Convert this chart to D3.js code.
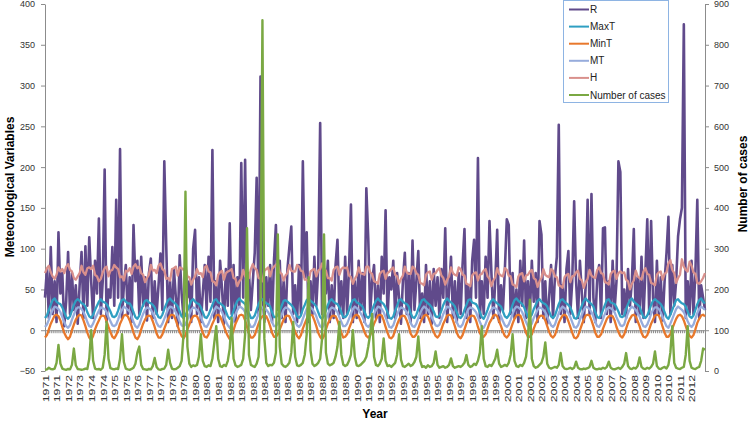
<!DOCTYPE html>
<html>
<head>
<meta charset="utf-8">
<script src="https://cdnjs.cloudflare.com/ajax/libs/d3/7.8.5/d3.min.js"></script>
<style>
body { margin: 0; background: #fff; }
svg { font-family: "Liberation Sans", Arial, sans-serif; }
</style>
</head>
<body>
<div id="chart"></div>
<script>
// labels shown on the category axis, one every 6 points
var yearTicks = ["1971","1971","1972","1973","1974","1974","1975","1975","1976","1977","1977","1978","1979","1980","1980","1981","1982","1983","1983","1984","1985","1986","1986","1987","1988","1989","1989","1990","1991","1992","1992","1993","1994","1995","1995","1996","1997","1998","1998","1999","2000","2001","2001","2002","2003","2004","2004","2005","2006","2007","2007","2008","2009","2010","2010","2011","2012"];
var leftTicks = [-50, 0, 50, 100, 150, 200, 250, 300, 350, 400];
var rightTicks = [0, 100, 200, 300, 400, 500, 600, 700, 800, 900];

// monthly values, one row per year
var R = [
  40,75,15,102,20,60,10,120,45,70,5,35,
  96,20,70,25,55,8,55,96,15,103,30,114,
  60,15,85,45,137,20,60,197,10,50,40,102,
  30,160,40,222,15,55,80,20,65,10,129,60,
  85,20,90,30,65,12,70,88,15,60,20,55,
  94,25,207,104,10,60,15,75,40,5,92,45,
  15,85,40,60,10,100,123,20,65,10,45,80,
  25,90,35,221,15,60,10,85,50,8,75,30,
  131,20,80,10,65,30,205,40,209,15,70,25,
  60,95,187,20,311,50,10,65,30,80,10,85,
  129,25,85,15,60,10,75,102,127,20,55,10,
  80,20,207,65,120,10,60,20,90,30,75,254,
  20,70,45,85,10,55,15,80,111,20,60,15,
  90,20,75,154,10,60,15,85,25,70,10,174,
  112,20,60,80,15,55,10,90,45,147,15,65,
  50,85,15,70,40,8,60,95,20,70,10,110,
  25,60,97,15,45,10,80,20,60,8,75,30,
  65,15,75,40,125,10,50,90,15,60,10,70,
  20,80,124,15,55,10,85,111,40,211,15,60,
  20,90,40,134,70,15,60,123,10,55,25,75,
  136,129,20,70,15,50,10,85,30,110,15,60,
  20,85,35,70,10,134,117,15,60,8,40,80,
  15,65,90,252,20,55,10,75,97,20,60,158,
  60,15,85,45,10,55,160,20,167,40,10,65,
  80,15,125,126,20,60,10,85,25,60,207,194,
  20,50,15,75,30,60,124,10,65,20,90,15,
  70,136,20,134,40,10,85,20,65,12,60,95,
  139,20,80,30,60,115,136,150,375,15,60,20,
  85,20,70,160,15,55,40,25
];

var MaxT = [
  15,18,25,31,37,39,35,33,32,28,22,16,
  14,17,24,31,36,38,36,33,32,29,22,17,
  15,19,25,30,35,38,35,34,32,28,23,17,
  16,18,24,32,37,38,35,33,33,29,22,16,
  14,18,25,31,36,37,34,33,31,28,21,16,
  15,19,26,32,37,39,36,34,32,29,23,17,
  16,18,24,30,36,38,35,33,32,28,22,16,
  15,19,25,31,37,38,34,33,31,29,23,17,
  14,17,24,31,36,39,36,34,32,28,21,15,
  15,18,25,32,37,38,35,33,32,29,22,16,
  16,19,24,30,36,37,35,33,31,28,23,17,
  15,18,26,31,37,39,36,34,32,29,22,16,
  14,18,24,31,36,38,35,33,32,28,22,16,
  16,19,25,32,37,38,34,33,31,29,23,17,
  15,18,25,31,36,39,36,34,32,28,22,15,
  14,17,24,30,37,38,35,33,32,29,21,16,
  15,19,26,32,37,38,35,33,31,28,23,17,
  16,18,24,31,36,39,36,34,32,29,22,16,
  15,18,25,31,37,38,34,33,32,28,22,16,
  14,19,25,32,36,38,35,33,31,29,23,17,
  15,18,24,31,37,39,36,34,32,28,22,16,
  16,19,26,31,36,38,35,33,32,29,23,17,
  15,18,25,32,37,38,35,33,31,28,22,15,
  14,17,24,30,36,39,36,34,32,29,22,16,
  15,19,25,31,37,38,34,33,32,28,23,17,
  16,18,26,32,37,39,35,33,31,29,22,16,
  15,18,24,31,36,38,36,34,32,28,22,16,
  14,19,25,31,37,38,35,33,32,29,23,17,
  15,18,25,32,37,39,35,33
];

var MinT = [
  -9,-6,1,8,13,18,19,17,12,4,-3,-8,
  -11,-8,0,7,13,17,19,18,12,5,-3,-9,
  -12,-7,1,7,12,17,18,17,11,4,-2,-8,
  -10,-6,0,8,13,18,19,17,12,5,-3,-9,
  -11,-7,1,8,13,17,18,17,11,4,-4,-9,
  -9,-5,2,8,14,18,19,18,12,5,-2,-7,
  -10,-6,1,7,13,17,18,17,12,4,-3,-8,
  -9,-5,2,8,13,18,19,17,11,5,-2,-7,
  -11,-7,0,8,13,18,19,18,12,4,-4,-9,
  -9,-6,1,8,14,17,18,17,12,5,-3,-8,
  -8,-5,1,7,13,17,18,17,11,4,-2,-7,
  -10,-6,2,8,14,18,19,18,12,5,-3,-8,
  -11,-7,1,8,13,17,18,17,12,4,-3,-9,
  -8,-5,2,8,14,18,19,17,11,5,-2,-7,
  -9,-6,1,8,13,18,19,18,12,4,-3,-9,
  -10,-7,0,7,13,17,18,17,12,5,-4,-8,
  -8,-5,2,9,14,18,19,17,11,4,-2,-7,
  -9,-6,1,8,13,18,19,18,12,5,-3,-8,
  -10,-6,1,8,14,17,18,17,12,4,-3,-8,
  -8,-5,2,9,13,18,19,17,11,5,-2,-7,
  -9,-6,1,8,14,18,19,18,12,4,-3,-8,
  -8,-5,2,8,13,17,18,17,12,5,-2,-7,
  -9,-6,1,9,14,18,19,17,11,4,-3,-9,
  -10,-7,0,7,13,18,19,18,12,5,-3,-8,
  -8,-5,2,8,14,17,18,17,12,4,-2,-7,
  -9,-5,2,9,14,18,19,17,11,5,-3,-8,
  -9,-6,1,8,13,18,19,18,12,4,-3,-8,
  -8,-5,2,8,14,18,19,17,12,5,-2,-7,
  -9,-6,1,9,14,18,19,17
];

var MT = [
  4,7,13,20,25,29,28,26,22,16,10,5,
  3,6,13,19,25,28,28,26,22,17,10,5,
  4,8,14,19,24,28,27,26,22,16,11,6,
  5,7,13,20,25,29,27,25,23,17,10,5,
  3,7,14,20,25,28,27,25,21,16,9,5,
  4,8,14,20,26,29,28,26,22,17,11,6,
  5,7,13,19,25,28,27,25,22,16,10,5,
  4,8,14,20,25,29,27,26,22,17,11,6,
  3,6,13,20,25,29,28,26,22,16,9,4,
  4,7,14,20,26,28,27,25,22,17,10,5,
  5,8,13,19,25,28,27,25,21,16,11,6,
  4,7,14,20,26,29,28,26,22,17,10,5,
  3,7,13,20,25,28,27,25,22,16,10,5,
  5,8,14,20,26,29,27,25,21,17,11,6,
  4,7,14,20,25,29,28,26,22,16,10,4,
  3,6,13,19,25,28,27,25,22,17,9,5,
  4,8,15,21,26,29,27,25,21,16,11,6,
  5,7,13,20,25,29,28,26,22,17,10,5,
  4,7,14,20,26,28,27,25,22,16,10,5,
  3,8,14,21,25,28,27,25,21,17,11,6,
  4,7,13,20,26,29,28,26,22,16,10,5,
  5,8,15,20,25,28,27,25,22,17,11,6,
  4,7,14,21,26,29,27,25,21,16,10,4,
  3,6,13,19,25,29,28,26,22,17,10,5,
  4,8,14,20,26,28,27,25,22,16,11,6,
  5,7,15,21,26,29,27,25,21,17,10,5,
  4,7,13,20,25,28,28,26,22,16,10,5,
  3,8,14,20,26,29,27,25,22,17,11,6,
  4,7,14,21,26,29,27,25
];

var H = [
  70,76,79,71,66,63,68,77,72,75,70,78,
  81,74,72,64,62,66,70,79,71,68,76,77,
  75,79,68,66,60,63,71,76,78,66,73,74,
  80,77,75,65,66,61,73,72,76,69,78,81,
  76,78,70,68,59,64,68,80,73,74,70,79,
  82,75,73,63,64,61,75,76,78,67,77,76,
  74,77,66,65,56,62,66,75,69,70,65,77,
  79,72,71,60,59,55,68,71,73,62,70,72,
  73,75,64,63,54,60,63,74,66,67,64,75,
  81,76,74,64,63,60,73,75,77,66,75,78,
  80,82,71,69,61,67,70,80,73,72,72,80,
  78,73,72,62,62,59,72,74,75,66,73,75,
  82,76,73,64,64,61,74,77,78,68,75,77,
  76,77,67,65,57,63,67,77,70,69,68,78,
  78,71,69,60,59,57,69,72,73,63,70,72,
  75,77,68,66,57,63,67,78,71,69,69,78,
  76,70,68,58,57,55,68,71,72,62,69,70,
  74,76,67,64,56,62,66,77,70,68,67,77,
  75,68,67,57,56,54,67,70,71,61,68,69,
  73,75,66,63,54,61,65,76,69,67,66,76,
  74,67,66,56,55,53,66,69,70,60,67,68,
  72,74,64,62,53,60,64,75,68,66,65,75,
  73,66,65,55,54,52,65,68,69,59,66,67,
  71,73,63,61,52,59,63,74,67,65,64,74,
  77,70,69,59,58,56,69,72,73,63,70,72,
  70,71,62,60,50,57,61,73,66,64,62,72,
  76,69,68,58,57,55,68,71,72,62,69,71,
  82,86,74,70,58,64,68,87,78,74,72,84,
  79,71,69,58,57,60,64,70
];

var Cases = [
  3,4,8,5,4,6,20,64,18,6,4,3,
  5,4,15,55,14,5,4,3,4,6,5,30,
  100,25,6,4,5,3,8,40,120,30,7,5,
  4,6,5,30,90,22,6,4,3,5,8,18,
  45,60,15,5,4,3,5,4,12,32,10,4,
  3,5,6,15,52,20,6,4,5,8,12,25,
  90,440,60,18,10,14,12,15,35,90,25,12,
  10,14,12,30,70,110,30,12,10,15,12,25,
  55,130,30,14,10,12,15,30,90,350,40,15,
  12,10,18,35,150,860,80,20,12,15,14,20,
  45,335,60,18,12,10,14,20,45,120,35,14,
  12,15,20,40,90,230,50,18,12,15,20,30,
  80,335,45,18,14,16,20,35,60,120,40,16,
  12,15,25,40,100,35,14,12,15,20,25,35,
  60,90,140,35,15,12,18,30,80,25,12,14,
  10,15,20,40,90,28,12,10,14,18,12,15,
  22,35,85,25,10,12,8,14,10,12,20,48,
  15,8,10,12,8,10,15,31,12,8,10,12,
  10,14,20,39,15,10,12,18,15,25,45,110,
  30,12,10,15,12,20,30,52,18,10,12,15,
  12,20,40,90,25,12,10,15,12,20,35,80,
  175,30,12,8,10,15,20,35,70,18,8,6,
  8,10,8,15,44,12,6,5,6,8,5,8,
  23,8,5,4,6,5,7,10,25,8,5,4,
  6,5,8,6,10,23,8,5,4,6,8,5,
  10,18,44,12,6,5,8,6,12,33,10,6,
  5,8,6,10,18,48,12,6,5,8,10,6,
  15,45,110,20,8,6,5,8,10,40,110,25,
  8,6,5,8,10,25,55,52
];

var series = [
  {name: "R", values: R, color: "#604a8b", width: 2.6, right: false},
  {name: "MaxT", values: MaxT, color: "#2f9fc2", width: 2.3, right: false},
  {name: "MinT", values: MinT, color: "#e8782c", width: 2.3, right: false},
  {name: "MT", values: MT, color: "#97acdc", width: 2.3, right: false},
  {name: "H", values: H, color: "#d9908c", width: 2.3, right: false},
  {name: "Number of cases", values: Cases, color: "#7aa843", width: 2.4, right: true}
];

var width = 750, height = 422;
var N = R.length;

var svg = d3.select("#chart").append("svg").attr("width", width).attr("height", height);

var x = d3.scaleLinear().domain([0, N - 1]).range([45, 705]);
var yLeft = d3.scaleLinear().domain([-50, 400]).range([371, 4]);
var yRight = d3.scaleLinear().domain([0, 900]).range([371, 4]);

function styleAxis(g) {
    g.select(".domain").attr("stroke", "#8c8c8c");
    g.selectAll(".tick line").attr("stroke", "#8c8c8c");
    g.selectAll(".tick text").attr("fill", "#333").style("font-size", "9px");
}

svg.append("g")
    .attr("transform", "translate(45,0)")
    .call(d3.axisLeft(yLeft).tickValues(leftTicks).tickSize(4).tickPadding(6).tickSizeOuter(0))
    .call(styleAxis);

svg.append("g")
    .attr("transform", "translate(705,0)")
    .call(d3.axisRight(yRight).tickValues(rightTicks).tickSize(4).tickPadding(5).tickSizeOuter(0))
    .call(styleAxis);

// category axis crosses at 0 on the left scale, one tick per month
svg.append("g")
    .attr("transform", "translate(0," + yLeft(0) + ")")
    .call(d3.axisBottom(x).tickValues(d3.range(N)).tickSize(3).tickSizeOuter(0).tickFormat(""))
    .call(styleAxis);

var labelAxis = svg.append("g")
    .attr("transform", "translate(0,371)")
    .call(d3.axisBottom(x)
        .tickValues(yearTicks.map(function(d, i) { return i * 6; }))
        .tickSize(0)
        .tickFormat(function(d, i) { return yearTicks[i]; }));
labelAxis.select(".domain").remove();
labelAxis.selectAll("text")
    .attr("transform", "rotate(-90) scale(1.3,1)")
    .attr("x", -3)
    .attr("y", 0)
    .attr("dy", "0.35em")
    .attr("fill", "#333")
    .style("font-size", "9.5px")
    .style("text-anchor", "end");

series.forEach(function(s) {
    var scale = s.right ? yRight : yLeft;
    var line = d3.line()
        .x(function(d, i) { return x(i); })
        .y(function(d) { return scale(d); });
    svg.append("path")
        .datum(s.values)
        .attr("fill", "none")
        .attr("stroke", s.color)
        .attr("stroke-width", s.width)
        .attr("stroke-linejoin", "round")
        .attr("d", line);
});

// titles
svg.append("text")
    .attr("transform", "translate(14,187) rotate(-90)")
    .attr("text-anchor", "middle")
    .style("font-size", "12px").style("font-weight", "bold")
    .text("Meteorological Variables");

svg.append("text")
    .attr("transform", "translate(747,184) rotate(-90)")
    .attr("text-anchor", "middle")
    .style("font-size", "12px").style("font-weight", "bold")
    .text("Number of cases");

svg.append("text")
    .attr("x", 375).attr("y", 418)
    .attr("text-anchor", "middle")
    .style("font-size", "12px").style("font-weight", "bold")
    .text("Year");

// legend
var legend = svg.append("g");
legend.append("rect")
    .attr("x", 563.5).attr("y", 0.5)
    .attr("width", 105).attr("height", 102)
    .attr("fill", "#fff").attr("stroke", "#8eb4e3");
series.forEach(function(s, k) {
    var ly = 9.5 + k * 17.1;
    legend.append("line")
        .attr("x1", 569).attr("x2", 589).attr("y1", ly).attr("y2", ly)
        .attr("stroke", s.color).attr("stroke-width", 2);
    legend.append("text")
        .attr("x", 590).attr("y", ly).attr("dy", "0.35em")
        .style("font-size", "10px").attr("fill", "#222")
        .text(s.name);
});
</script>
</body>
</html>
